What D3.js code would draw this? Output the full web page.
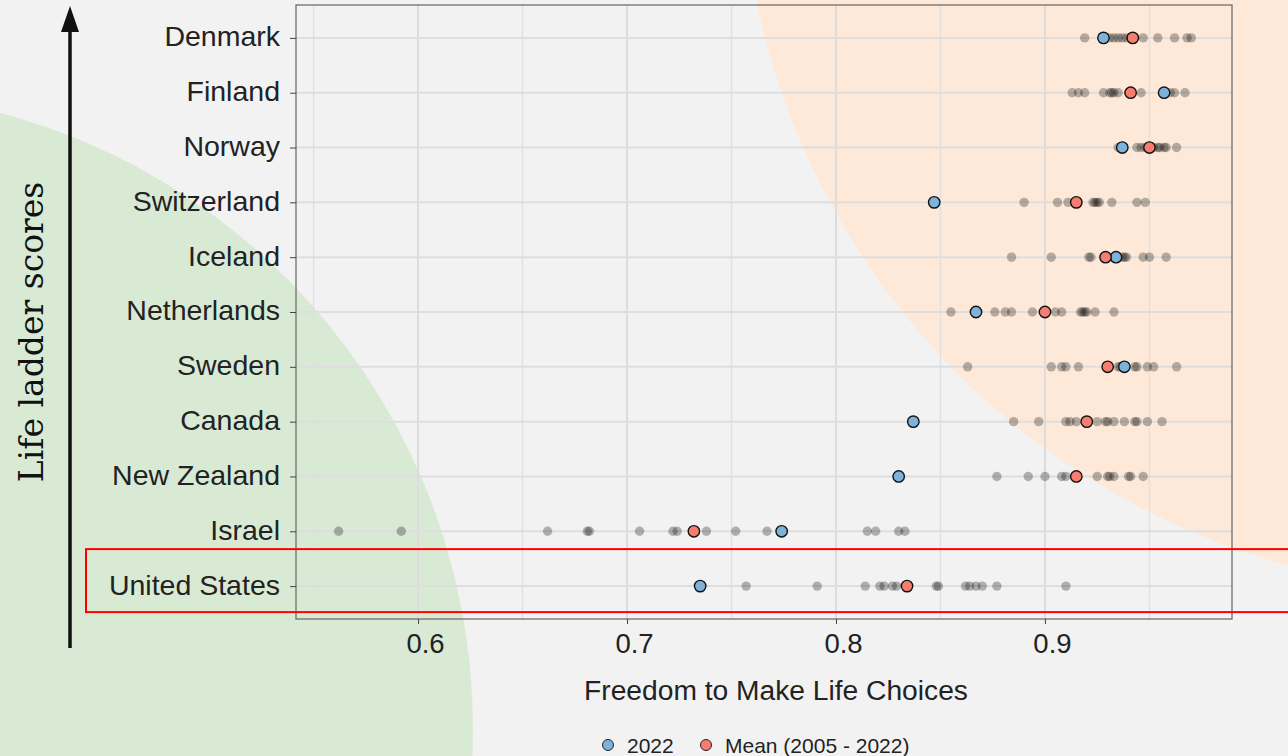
<!DOCTYPE html>
<html>
<head>
<meta charset="utf-8">
<script src="https://cdn.jsdelivr.net/npm/d3@7"></script>
<style>
  html, body { margin: 0; padding: 0; background: #f2f2f2; }
  svg { display: block; }
</style>
</head>
<body>
<div id="chart"></div>
<script>
// ─── DONNÉES ──────────────────────────────────────────────────────────────────
const countries = ["Denmark", "Finland", "Norway", "Switzerland", "Iceland", "Netherlands",
                   "Sweden", "Canada", "New Zealand", "Israel", "United States"];

// valeur 2022 (points bleus)
const value2022 = [0.928, 0.957, 0.937, 0.847, 0.934, 0.867, 0.938, 0.837, 0.830, 0.774, 0.735];

// moyenne 2005 - 2022 (points saumon)
const meanValues = [0.942, 0.941, 0.950, 0.915, 0.929, 0.900, 0.930, 0.920, 0.915, 0.732, 0.834];

// valeurs annuelles (points gris)
const yearly = [
  [0.919, 0.928, 0.931, 0.933, 0.935, 0.937, 0.939, 0.941, 0.943, 0.947, 0.954, 0.962, 0.968, 0.970],
  [0.913, 0.916, 0.919, 0.928, 0.931, 0.932, 0.933, 0.935, 0.940, 0.946, 0.957, 0.960, 0.962, 0.967],
  [0.935, 0.937, 0.944, 0.946, 0.948, 0.950, 0.952, 0.954, 0.955, 0.957, 0.958, 0.963],
  [0.847, 0.890, 0.906, 0.911, 0.915, 0.923, 0.924, 0.925, 0.926, 0.932, 0.944, 0.948],
  [0.884, 0.903, 0.921, 0.922, 0.929, 0.934, 0.937, 0.938, 0.939, 0.947, 0.950, 0.958],
  [0.855, 0.867, 0.876, 0.881, 0.884, 0.894, 0.900, 0.905, 0.908, 0.917, 0.918, 0.919, 0.920, 0.924, 0.933],
  [0.863, 0.903, 0.908, 0.910, 0.916, 0.930, 0.935, 0.936, 0.938, 0.943, 0.944, 0.949, 0.952, 0.963],
  [0.837, 0.885, 0.897, 0.910, 0.912, 0.915, 0.920, 0.925, 0.929, 0.930, 0.933, 0.938, 0.943, 0.944, 0.949, 0.956],
  [0.830, 0.877, 0.892, 0.900, 0.908, 0.910, 0.915, 0.925, 0.930, 0.931, 0.933, 0.940, 0.941, 0.947],
  [0.562, 0.592, 0.662, 0.681, 0.682, 0.706, 0.722, 0.724, 0.732, 0.738, 0.752, 0.767, 0.774, 0.815, 0.819, 0.830, 0.833],
  [0.735, 0.757, 0.791, 0.814, 0.821, 0.823, 0.827, 0.829, 0.834, 0.848, 0.849, 0.862, 0.864, 0.867, 0.870, 0.877, 0.910]
];

const xDomain = [0.5416, 0.9895];
const majorTicks = [0.6, 0.7, 0.8, 0.9];
const minorTicks = [0.55, 0.65, 0.75, 0.85, 0.95];
const highlighted = "United States";

const legendLabels = ["2022", "Mean (2005 - 2022)"];

// ─── COULEURS ─────────────────────────────────────────────────────────────────
const colBlue = "#7db2da";
const colRed = "#f67e70";
const fontSans = "'Liberation Sans', Arial, sans-serif";

// ─── SVG ──────────────────────────────────────────────────────────────────────
const W = 1288, H = 756;
const svg = d3.select("#chart").append("svg").attr("width", W).attr("height", H);

svg.append("rect").attr("width", W).attr("height", H).attr("fill", "#f2f2f2");

// cercles décoratifs
svg.append("circle").attr("cx", -165).attr("cy", 729).attr("r", 638).attr("fill", "#d9ead4");
svg.append("circle").attr("cx", 1482).attr("cy", -150).attr("r", 741).attr("fill", "#fee9d8");

const panel = { left: 296, right: 1232, top: 5, bottom: 619 };

const x = d3.scaleLinear().domain(xDomain).range([panel.left, panel.right]);
const y = d3.scalePoint().domain(countries).range([panel.top, panel.bottom]).padding(0.6);

// grille
const grid = svg.append("g");
grid.selectAll(".minor").data(minorTicks).enter().append("line")
    .attr("x1", d => x(d)).attr("x2", d => x(d))
    .attr("y1", panel.top).attr("y2", panel.bottom)
    .attr("stroke", "#e0e0e0").attr("stroke-width", 1.4);
grid.selectAll(".major").data(majorTicks).enter().append("line")
    .attr("x1", d => x(d)).attr("x2", d => x(d))
    .attr("y1", panel.top).attr("y2", panel.bottom)
    .attr("stroke", "#dcdcdc").attr("stroke-width", 2);
grid.selectAll(".hrow").data(countries).enter().append("line")
    .attr("x1", panel.left).attr("x2", panel.right)
    .attr("y1", d => y(d)).attr("y2", d => y(d))
    .attr("stroke", "#dedede").attr("stroke-width", 2);

// points gris annuels
const greyPts = [];
countries.forEach((c, i) => yearly[i].forEach(v => greyPts.push({ c, v })));
svg.append("g").selectAll("circle").data(greyPts).enter().append("circle")
    .attr("cx", d => x(d.v)).attr("cy", d => y(d.c)).attr("r", 4.7)
    .attr("fill", "#000").attr("fill-opacity", 0.28);

// points 2022 et moyenne
svg.append("g").selectAll("circle").data(countries).enter().append("circle")
    .attr("cx", (d, i) => x(value2022[i])).attr("cy", d => y(d)).attr("r", 5.7)
    .attr("fill", colBlue).attr("stroke", "#111").attr("stroke-width", 1.4);
svg.append("g").selectAll("circle").data(countries).enter().append("circle")
    .attr("cx", (d, i) => x(meanValues[i])).attr("cy", d => y(d)).attr("r", 5.7)
    .attr("fill", colRed).attr("stroke", "#111").attr("stroke-width", 1.4);

// cadre du panneau
svg.append("rect")
    .attr("x", panel.left).attr("y", panel.top)
    .attr("width", panel.right - panel.left).attr("height", panel.bottom - panel.top)
    .attr("fill", "none").attr("stroke", "#6e6e6e").attr("stroke-width", 1.3);

// axes
svg.append("g")
    .attr("transform", `translate(${panel.left},0)`)
    .call(d3.axisLeft(y).tickSize(6).tickPadding(10))
    .call(g => g.select(".domain").remove())
    .call(g => g.selectAll(".tick line").attr("stroke", "#444"))
    .call(g => g.selectAll("text")
        .attr("fill", "#222")
        .attr("dy", "0.28em")
        .style("font-size", "28.5px")
        .style("font-family", fontSans));

svg.append("g")
    .attr("transform", `translate(0,${panel.bottom})`)
    .call(d3.axisBottom(x).tickValues(majorTicks).tickSize(5).tickPadding(9).tickFormat(d3.format(".1f")))
    .call(g => g.select(".domain").remove())
    .call(g => g.selectAll(".tick line").attr("stroke", "#444"))
    .call(g => g.selectAll("text")
        .attr("fill", "#222")
        .attr("dx", 7)
        .style("font-size", "27.5px")
        .style("font-family", fontSans));

// titre de l'axe X
svg.append("text")
    .attr("x", 776).attr("y", 700)
    .attr("text-anchor", "middle")
    .attr("fill", "#222")
    .style("font-size", "28.2px").style("font-family", fontSans)
    .text("Freedom to Make Life Choices");

// flèche et titre de l'axe Y
svg.append("line")
    .attr("x1", 70).attr("x2", 70).attr("y1", 648).attr("y2", 28)
    .attr("stroke", "#111").attr("stroke-width", 3.5);
svg.append("path")
    .attr("d", "M70,6 L79,32 L61,32 Z")
    .attr("fill", "#111");

svg.append("text")
    .attr("transform", "translate(43,332) rotate(-90)")
    .attr("text-anchor", "middle")
    .attr("fill", "#111")
    .style("font-size", "33px").style("font-family", "'DejaVu Serif', serif")
    .text("Life ladder scores");

// cadre rouge autour des États-Unis
svg.append("rect")
    .attr("x", 86).attr("y", y(highlighted) - 37)
    .attr("width", 1300).attr("height", 63)
    .attr("fill", "none").attr("stroke", "#ff0000").attr("stroke-width", 2);

// légende
const legend = svg.append("g").attr("transform", "translate(608,745)");
const legendItems = [
  { label: legendLabels[0], color: colBlue, dx: 0 },
  { label: legendLabels[1], color: colRed, dx: 98 }
];
const li = legend.selectAll("g").data(legendItems).enter().append("g")
    .attr("transform", d => `translate(${d.dx},0)`);
li.append("circle").attr("r", 5.5).attr("fill", d => d.color)
    .attr("stroke", "#222").attr("stroke-width", 1);
li.append("text").attr("x", 19).attr("y", 7.5)
    .attr("fill", "#222")
    .style("font-size", "21px").style("font-family", fontSans)
    .text(d => d.label);
</script>
</body>
</html>
